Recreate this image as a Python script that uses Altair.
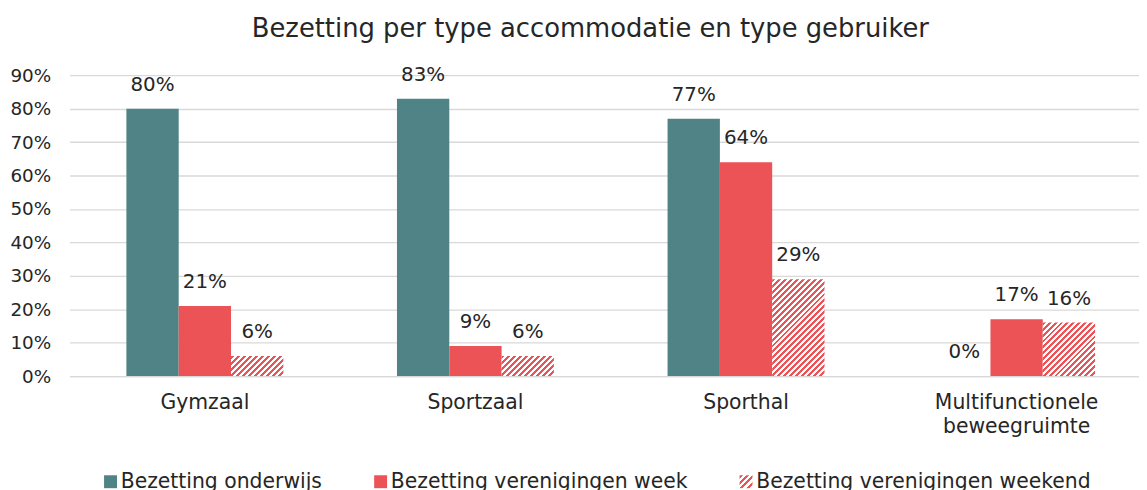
import altair as alt
import pandas as pd

# ---- data ----
categories = ["Gymzaal", "Sportzaal", "Sporthal", "Multifunctionele beweegruimte"]
series = ["Bezetting onderwijs", "Bezetting verenigingen week", "Bezetting verenigingen weekend"]
onderwijs = [0.80, 0.83, 0.77, 0.00]
week = [0.21, 0.09, 0.64, 0.17]
weekend = [0.06, 0.06, 0.29, 0.16]
y_ticks = [0.0, 0.1, 0.2, 0.3, 0.4, 0.5, 0.6, 0.7, 0.8, 0.9]

rows = []
for i, c in enumerate(categories):
    for s, vals in zip(series, [onderwijs, week, weekend]):
        rows.append({"cat": c, "series": s, "value": vals[i]})
df = pd.DataFrame(rows)

# ---- style ----
TEAL = "#4F8386"
RED = "#EB5356"
TXT = "#262626"
GRID = "#D9D9D9"
FONT = "DejaVu Sans"

PLOT_W_RANGE = 1090      # full band range (chart is cropped at window edge)
PLOT_W = 1077
PLOT_H = 303
Y_MAX = 0.9
P_INNER = 0.42
STEP = PLOT_W_RANGE / (len(categories) - P_INNER + 2 * (P_INNER / 2))
BAR_W = STEP * (1 - P_INNER) / 3
PERIOD = 6.0


def hatch(w, h, gid, period=PERIOD):
    L = w + h
    n = max(1, round(L / period))
    stops = []
    for i in range(n):
        a, m, b = i / n, (i + 0.5) / n, (i + 1) / n
        stops += [
            {"offset": a, "color": RED},
            {"offset": m, "color": RED},
            {"offset": m, "color": "#FFFFFF"},
            {"offset": b, "color": "#FFFFFF"},
        ]
    k = (w + h) / (w * w + h * h)
    return {"gradient": "linear", "id": gid, "x1": 0, "y1": 0,
            "x2": k * w, "y2": k * h, "stops": stops}


x_enc = alt.X("cat:N", sort=categories,
              scale=alt.Scale(domain=categories, range=[0, PLOT_W_RANGE],
                              paddingInner=P_INNER, paddingOuter=P_INNER / 2),
              axis=alt.Axis(title=None, labelAngle=0, ticks=False, domain=True,
                            domainColor=GRID, domainWidth=1.3,
                            labelFont=FONT, labelFontSize=20.5, labelColor=TXT,
                            labelPadding=17, labelLineHeight=24,
                            labelExpr="datum.label == 'Multifunctionele beweegruimte' ? ['Multifunctionele', 'beweegruimte'] : datum.label"))
xo_enc = alt.XOffset("series:N", sort=series,
                     scale=alt.Scale(domain=series, paddingInner=0, paddingOuter=0))
y_enc = alt.Y("value:Q",
              scale=alt.Scale(domain=[0, Y_MAX], nice=False, zero=True),
              axis=alt.Axis(title=None, values=y_ticks, format=".0%", ticks=False,
                            domain=False, grid=True, gridColor=GRID, gridWidth=1.3,
                            labelFont=FONT, labelFontSize=18.5, labelColor=TXT,
                            labelPadding=19))

base = alt.Chart(df)

bars = base.transform_filter(
    alt.datum.series != series[2]
).mark_bar().encode(
    x=x_enc, xOffset=xo_enc, y=y_enc,
    color=alt.Color("series:N",
                    scale=alt.Scale(domain=series, range=[TEAL, RED, "url(#hatch_legend)"]),
                    legend=alt.Legend(title=None, orient="none", direction="horizontal",
                                      legendX=31, legendY=399,
                                      symbolType="square", symbolSize=169,
                                      symbolStrokeWidth=0, symbolOpacity=1,
                                      labelFont=FONT, labelFontSize=20.5, labelColor=TXT,
                                      labelOffset=0, columnPadding=48,
                                      labelLimit=600))
)

layers = [bars]
px_per_unit = PLOT_H / Y_MAX
for i, c in enumerate(categories):
    h = weekend[i] * px_per_unit
    layers.append(
        base.transform_filter(
            (alt.datum.series == series[2]) & (alt.datum.cat == c)
        ).mark_bar(fill=hatch(BAR_W, h, f"hatch_{i}"), strokeWidth=0).encode(
            x=x_enc, xOffset=xo_enc, y=y_enc)
    )

# zero-height item that carries the legend's hatch definition
layers.append(
    base.transform_filter(
        (alt.datum.series == series[0]) & (alt.datum.value == 0)
    ).mark_bar(fill=hatch(13, 13, "hatch_legend", period=6.0), strokeWidth=0).encode(
        x=x_enc, xOffset=xo_enc, y=y_enc)
)

labels = base.mark_text(font=FONT, fontSize=20, color=TXT, baseline="middle", dy=-24).encode(
    x=x_enc, xOffset=xo_enc, y=y_enc,
    text=alt.Text("value:Q", format=".0%"))
layers.append(labels)

chart = alt.layer(*layers).properties(
    width=PLOT_W, height=PLOT_H,
    autosize=alt.AutoSizeParams(type="none"),
    padding={"left": 62, "top": 66, "right": 0, "bottom": 113},
    title=alt.TitleParams("Bezetting per type accommodatie en type gebruiker",
                          font=FONT, fontSize=26, fontWeight="normal", color=TXT,
                          anchor="middle", frame="group", offset=23, dx=-14),
).configure_view(stroke=None).configure_axis(labelFontWeight="normal")

chart.save("out.html", embed_options={"renderer": "svg", "actions": False})
